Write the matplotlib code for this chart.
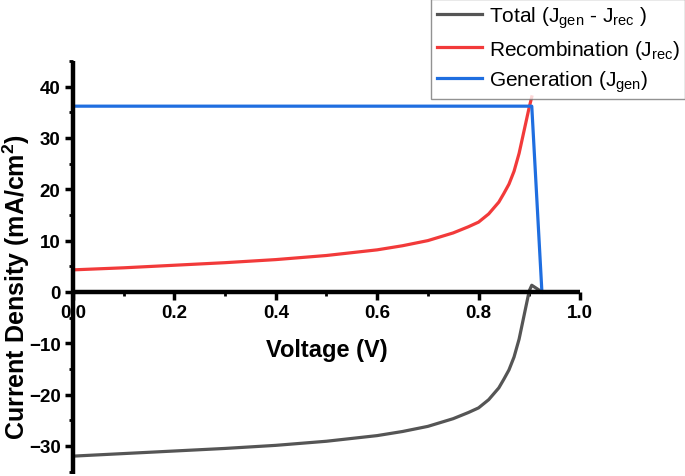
import matplotlib
matplotlib.use('Agg')
import matplotlib.pyplot as plt
from matplotlib.ticker import MultipleLocator

plt.rcParams['font.family'] = ['Liberation Sans', 'DejaVu Sans']
plt.rcParams['mathtext.fontset'] = 'custom'
plt.rcParams['mathtext.rm'] = 'Liberation Sans'
plt.rcParams['mathtext.it'] = 'Liberation Sans'
plt.rcParams['mathtext.bf'] = 'Liberation Sans:bold'

# ─── data ────────────────────────────────────────────────────
v_gen = [0.0, 0.905, 0.925]
j_gen = [36.2, 36.2, 0.0]

v_rec = [0.0, 0.1, 0.2, 0.3, 0.4, 0.5, 0.6, 0.65, 0.7, 0.75, 0.78, 0.8, 0.82,
         0.84, 0.85, 0.86, 0.87, 0.88, 0.89, 0.9, 0.905]
j_rec = [4.3, 4.7, 5.2, 5.7, 6.3, 7.1, 8.2, 9.0, 10.0, 11.5, 12.7, 13.6, 15.2,
         17.5, 19.2, 21.0, 23.5, 27.0, 31.5, 36.0, 38.0]

v_tot = [0.0, 0.1, 0.2, 0.3, 0.4, 0.5, 0.6, 0.65, 0.7, 0.75, 0.78, 0.8, 0.82,
         0.84, 0.85, 0.86, 0.87, 0.88, 0.89, 0.9, 0.905, 0.925]
j_tot = [-32.0, -31.5, -31.0, -30.5, -29.9, -29.1, -28.0, -27.2, -26.2, -24.7,
         -23.5, -22.6, -21.0, -18.7, -17.0, -15.2, -12.7, -9.2, -4.5, 0.2, 1.3, 0.0]

fig = plt.figure(figsize=(6.85, 4.77), dpi=100)
ax = fig.add_axes([0.1066, 0.004, 0.740, 0.866])

ax.plot(v_tot, j_tot, color='#555555', lw=2.3, label=r'Total (J$_{\mathrm{gen}}$ - J$_{\mathrm{rec}}$ )')
ax.plot(v_rec, j_rec, color='#f23a3a', lw=2.3, label=r'Recombination (J$_{\mathrm{rec}}$)')
ax.plot(v_gen, j_gen, color='#1f6ee0', lw=2.3, label=r'Generation (J$_{\mathrm{gen}}$)')

ax.set_xlim(0, 1.0)
ax.set_ylim(-35.5, 45)

ax.spines['left'].set_position(('data', 0))
ax.spines['bottom'].set_position(('data', 0))
ax.spines['right'].set_visible(False)
ax.spines['top'].set_visible(False)
for s in ['left', 'bottom']:
    ax.spines[s].set_linewidth(3.2)
    ax.spines[s].set_capstyle('butt')

ax.xaxis.set_major_locator(MultipleLocator(0.2))
ax.xaxis.set_minor_locator(MultipleLocator(0.1))
ax.yaxis.set_major_locator(MultipleLocator(10))
ax.yaxis.set_minor_locator(MultipleLocator(5))
ax.tick_params(which='major', direction='out', length=6, width=2.5, labelsize=13.5, pad=3)
ax.tick_params(which='minor', direction='out', length=3, width=2)
ax.set_xticks([0.0, 0.2, 0.4, 0.6, 0.8, 1.0])
ax.set_xticklabels(['0.0', '0.2', '0.4', '0.6', '0.8', '1.0'], fontweight='bold')
for lab in ax.get_yticklabels():
    lab.set_fontweight('bold')

fig.text(327 / 685, 1 - 350 / 477, 'Voltage (V)', ha='center', va='center',
         fontsize=17, fontweight='bold')
fig.text(16 / 685, 1 - 287 / 477, r'Current Density (mA/cm$^{\mathbf{2}}$)', ha='center', va='center',
         rotation=90, fontsize=18, fontweight='bold')

leg = fig.legend(loc='upper right', bbox_to_anchor=(1.0, 1.0), fontsize=15,
                 frameon=True, fancybox=False, edgecolor='#777777', borderaxespad=0,
                 handlelength=2.2, handletextpad=0.3, labelspacing=0.38, borderpad=0.25)
leg.get_frame().set_linewidth(1.0)

fig.savefig('out.png', dpi=100)
